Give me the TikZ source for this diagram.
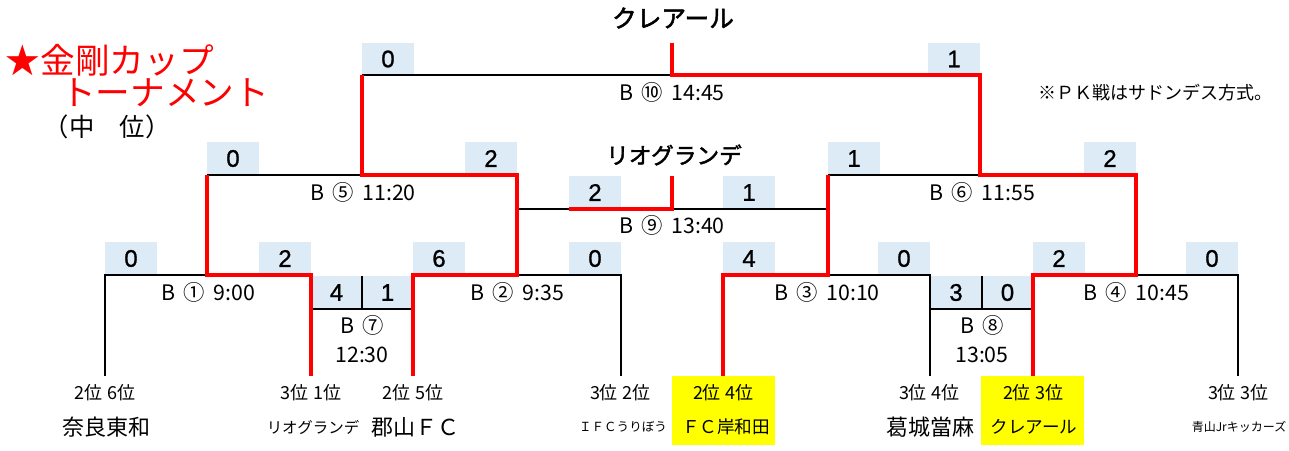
\documentclass[tikz,border=0pt]{standalone}
\usepackage{fontspec}
\setmainfont{Noto Sans CJK JP}
\newfontfamily\jpb[FakeBold=2]{Noto Sans CJK JP}
\newfontfamily\numf[FakeBold=1]{Liberation Sans}
\definecolor{scbg}{HTML}{DDEBF7}
\definecolor{hl}{HTML}{FFFF00}
\definecolor{rd}{HTML}{FF0000}
\newcommand\fsz[1]{\fontsize{#1}{#1}\selectfont}
\newcommand\gsp{\hspace{0.4em}}
\begin{document}
\begin{tikzpicture}[x=0.75pt,y=-0.75pt,
  sc/.style={fill=scbg, inner sep=0pt, minimum width=38.5pt, minimum height=24.5pt, font=\numf\fsz{18}},
  sch/.style={sc, minimum width=37.5pt},
  bl/.style={line width=1.4pt, black, line join=miter},
  rl/.style={line width=3.6pt, rd, line join=miter},
  mlab/.style={font=\fsz{16}, inner sep=0pt},
  rank/.style={font=\fsz{13.5}, inner sep=0pt},
  team/.style={font=\fsz{16.5}, inner sep=0pt},
  hlbox/.style={fill=hl, draw=none}]
\useasboundingbox (0,0) rectangle (1289,450);

% highlighted team cells
\fill[hl] (672,376) rectangle (775,445);
\fill[hl] (981,376) rectangle (1084,445);

% score cells
\node[sc] (s1a) at (131,258.5) {0};
\node[sc] (s1b) at (285,258.5) {2};
\node[sc] (s2a) at (439,258.5) {6};
\node[sc] (s2b) at (595,258.5) {0};
\node[sc] (s3a) at (749,258.5) {4};
\node[sc] (s3b) at (904,258.5) {0};
\node[sc] (s4a) at (1059,258.5) {2};
\node[sc] (s4b) at (1212,258.5) {0};
\node[sch] (s7a) at (336.5,292.5) {4};
\node[sch] (s7b) at (387.5,292.5) {1};
\node[sch] (s8a) at (956,292.5) {3};
\node[sch] (s8b) at (1007.5,292.5) {0};
\node[sc] (s5a) at (233,158.5) {0};
\node[sc] (s5b) at (491,158.5) {2};
\node[sc] (s6a) at (854,158.5) {1};
\node[sc] (s6b) at (1110,158.5) {2};
\node[sc] (s9a) at (595,192.5) {2};
\node[sc] (s9b) at (749,192.5) {1};
\node[sc] (s10a) at (388,59) {0};
\node[sc] (s10b) at (954,59) {1};

% black bracket lines
\draw[bl] (105,376) -- (105,275) -- (311,275);
\draw[bl] (311,309) -- (413,309);
\draw[bl] (362,276) -- (362,309);
\draw[bl] (413,275) -- (621,275) -- (621,376);
\draw[bl] (723,275) -- (930,275) -- (930,376);
\draw[bl] (930,309) -- (1033,309);
\draw[bl] (982,276) -- (982,309);
\draw[bl] (1033,275) -- (1238,275) -- (1238,376);
\draw[bl] (207,175) -- (517,175);
\draw[bl] (828,175) -- (1136,175);
\draw[bl] (517,209) -- (828,209);
\draw[bl] (362,75) -- (980,75);

% red winner lines
\draw[rl] (311,376) -- (311,275) -- (207,275) -- (207,175);
\draw[rl] (413,376) -- (413,275) -- (517,275) -- (517,175) -- (362,175) -- (362,75);
\draw[rl] (723,376) -- (723,275) -- (828,275) -- (828,175);
\draw[rl] (1033,376) -- (1033,275) -- (1136,275) -- (1136,175) -- (980,175) -- (980,75) -- (672,75) -- (672,43);
\draw[rl] (569,209) -- (672,209) -- (672,176);

% match labels
\node[mlab] (m1) at (208,292) {B\gsp①\gsp9:00};
\node[mlab] (m2) at (517,292) {B\gsp②\gsp9:35};
\node[mlab] (m3) at (827,292) {B\gsp③\gsp10:10};
\node[mlab] (m4) at (1136,292) {B\gsp④\gsp10:45};
\node[mlab] (m5) at (363,192) {B\gsp⑤\gsp11:20};
\node[mlab] (m6) at (982,192) {B\gsp⑥\gsp11:55};
\node[mlab] (m7a) at (362,325) {B\gsp⑦};
\node[mlab] (m7b) at (362,355) {12:30};
\node[mlab] (m8a) at (982,325) {B\gsp⑧};
\node[mlab] (m8b) at (982,355) {13:05};
\node[mlab] (m9) at (672,225) {B\gsp⑨\gsp13:40};
\node[mlab] (m10) at (672,92) {B\gsp⑩\gsp14:45};

% winners
\node[font=\jpb\fsz{18.5}, inner sep=0pt] (champ) at (673,18) {クレアール};
\node[font=\jpb\fsz{17}, inner sep=0pt] (third) at (674,155) {リオグランデ};

% title and note
\node[font=\fsz{26}, text=rd, inner sep=0pt] (t1) at (110,60) {★金剛カップ};
\node[font=\fsz{26}, text=rd, inner sep=0pt] (t2) at (165,93) {トーナメント};
\node[font=\fsz{19}, inner sep=0pt] (t3) at (107,127) {（中　位）};
\node[font=\fsz{13.5}, inner sep=0pt] (note) at (1155,93) {※ＰＫ戦はサドンデス方式。};

% teams
\node[rank] (r1) at (105,393) {2位 6位};
\node[team] (n1) at (106,427) {奈良東和};
\node[rank] (r2) at (311,393) {3位 1位};
\node[font=\fsz{11.6}, inner sep=0pt] (n2) at (313,427) {リオグランデ};
\node[rank] (r3) at (413,393) {2位 5位};
\node[team] (n3) at (415,427) {郡山ＦＣ};
\node[rank] (r4) at (620,393) {3位 2位};
\node[font=\fsz{9.4}, inner sep=0pt] (n4) at (623,427) {ＩＦＣうりぼう};
\node[rank] (r5) at (723,393) {2位 4位};
\node[font=\fsz{13.2}, inner sep=0pt] (n5) at (726,427) {ＦＣ岸和田};
\node[rank] (r6) at (929,393) {3位 4位};
\node[team] (n6) at (930,427) {葛城當麻};
\node[rank] (r7) at (1033,393) {2位 3位};
\node[font=\fsz{13.2}, inner sep=0pt] (n7) at (1034,427) {クレアール};
\node[rank] (r8) at (1238,393) {3位 3位};
\node[font=\fsz{9}, inner sep=0pt] (n8) at (1239,427) {青山Jrキッカーズ};
\end{tikzpicture}
\end{document}
